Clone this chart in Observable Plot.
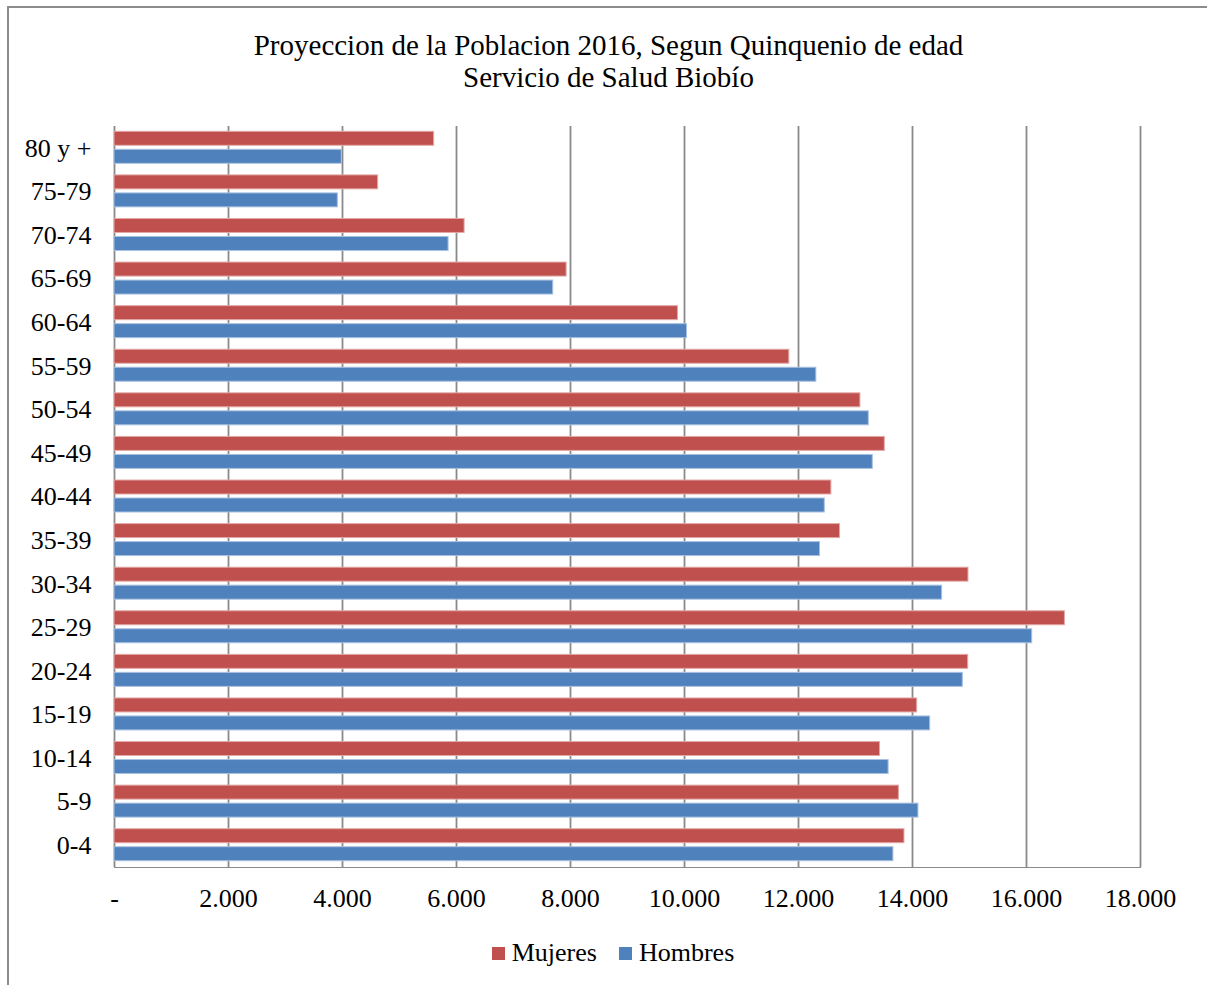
<!DOCTYPE html>
<html>
<head>
<meta charset="utf-8">
<script src="https://cdn.jsdelivr.net/npm/d3@7"></script>
<script src="https://cdn.jsdelivr.net/npm/@observablehq/plot@0.6"></script>
<style>
  html, body { margin: 0; padding: 0; background: #fff; }
  body { width: 1207px; height: 985px; position: relative; overflow: hidden; font-family: "Liberation Serif", "Times New Roman", serif; }
  #frame { position: absolute; left: 7px; top: 6px; width: 1240px; height: 1040px; border-left: 2px solid #8c8c8c; border-top: 2px solid #8c8c8c; }
  #title { position: absolute; left: 0; width: 1217px; top: 29px; text-align: center; font-size: 29px; line-height: 32px; color: #000; }
  #chart { position: absolute; left: 0; top: 0; }
  #chart svg text { fill: #000; }
  #chart .domain, #chart [aria-label="x-axis line"] line { stroke-width: 2px; }
  #legend { position: absolute; top: 938px; left: 0; width: 1226px; display: flex; justify-content: center; font-size: 26px; color: #000; }
  .item { display: flex; align-items: center; margin: 0 11px; }
  .sw { width: 13px; height: 13px; margin-right: 7px; }
</style>
</head>
<body>
<div id="frame"></div>
<div id="title">Proyeccion de la Poblacion 2016, Segun Quinquenio de edad<br>Servicio de Salud Biobío</div>
<div id="chart"></div>
<div id="legend"></div>
<script>
// Categories (top to bottom as drawn)
const ages = ["80 y +", "75-79", "70-74", "65-69", "60-64", "55-59", "50-54", "45-49", "40-44", "35-39", "30-34", "25-29", "20-24", "15-19", "10-14", "5-9", "0-4"];
// Series values
const mujeres = [5608, 4625, 6142, 7932, 9886, 11839, 13086, 13514, 12577, 12729, 14982, 16674, 14977, 14082, 13430, 13762, 13859];
const hombres = [3988, 3918, 5861, 7697, 10044, 12313, 13233, 13303, 12461, 12378, 14520, 16100, 14883, 14310, 13581, 14104, 13665];
const seriesNames = ["Mujeres", "Hombres"];
const seriesColors = ["#C0504D", "#4F81BD"];
const seriesEdges = ["#e3a9a7", "#a9c1e0"];
const xTicks = [0, 2000, 4000, 6000, 8000, 10000, 12000, 14000, 16000, 18000];

const rowsM = ages.map((age, i) => ({age, sex: "Mujeres", value: mujeres[i]}));
const rowsH = ages.map((age, i) => ({age, sex: "Hombres", value: hombres[i]}));

const fmt = d => d === 0 ? "-" : d3.format(",")(d).replace(/,/g, ".");

const chart = Plot.plot({
  width: 1207,
  height: 985,
  marginLeft: 114,
  marginRight: 67,
  marginTop: 126,
  marginBottom: 118,
  style: {fontFamily: "'Liberation Serif', 'Times New Roman', serif", fontSize: "26px", color: "#8a8a8a", background: "transparent", overflow: "visible"},
  x: {domain: [0, 18000], ticks: xTicks, tickFormat: fmt, tickSize: 0, tickPadding: 21, label: null, line: true},
  y: {domain: ages, padding: 0, round: false, tickSize: 0, tickPadding: 23, label: null},
  marks: [
    Plot.ruleX(xTicks, {stroke: "#8a8a8a", strokeWidth: 1.8}),
    Plot.barX(rowsM, {x: "value", y: "age", fill: seriesColors[0], stroke: seriesEdges[0], strokeWidth: 1, insetTop: 5.3, insetBottom: 24.3}),
    Plot.barX(rowsH, {x: "value", y: "age", fill: seriesColors[1], stroke: seriesEdges[1], strokeWidth: 1, insetTop: 23.3, insetBottom: 6.3})
  ]
});
document.getElementById("chart").appendChild(chart);

const legend = document.getElementById("legend");
seriesNames.forEach((name, i) => {
  const item = document.createElement("div");
  item.className = "item";
  const sw = document.createElement("div");
  sw.className = "sw";
  sw.style.background = seriesColors[i];
  const label = document.createElement("span");
  label.textContent = name;
  item.appendChild(sw);
  item.appendChild(label);
  legend.appendChild(item);
});
</script>
</body>
</html>
